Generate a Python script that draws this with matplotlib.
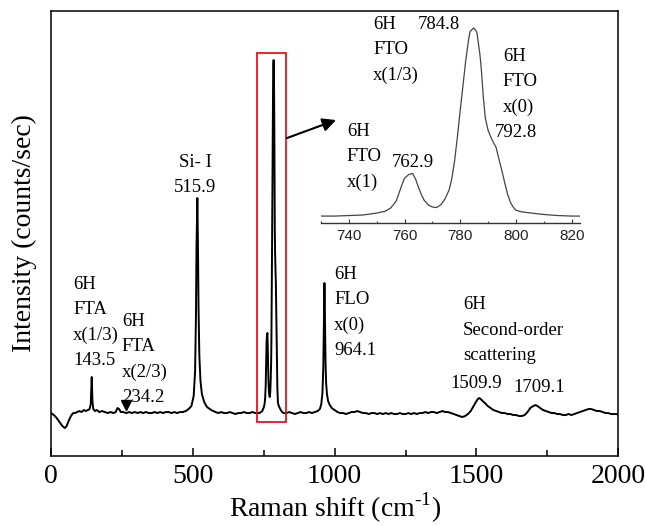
import matplotlib
matplotlib.use("Agg")
import matplotlib.pyplot as plt
from matplotlib.patches import Rectangle
from matplotlib.ticker import MultipleLocator

# Raman spectrum of 6H-SiC (intensity in arbitrary counts/sec units)
shift = [
    0, 10, 20, 30, 40, 49, 55, 62, 70, 78, 85, 92, 100, 108, 115, 122, 130, 136,
    140, 143.5, 146, 149, 155, 162, 170, 180, 190, 200, 210, 220, 228, 234.2, 240,
    246, 255, 265, 275, 285, 295, 305, 315, 325, 335, 345, 355, 365, 375, 385, 395,
    405, 415, 425, 435, 445, 455, 465, 475, 485, 495, 503, 508, 511, 513, 515.9,
    518, 520, 523, 527, 532, 540, 550, 565, 580, 590, 600, 610, 620, 630, 640, 650,
    660, 670, 680, 690, 700, 710, 720, 730, 735, 740, 745, 750, 753, 755, 757, 758,
    759, 760, 761.5, 762.9, 764, 765, 766, 767, 768.5, 770, 771.5, 773, 774.5, 776,
    777, 778, 779, 780, 781, 782, 783, 783.5, 784.2, 784.8, 785.5, 786, 787, 787.5,
    788.3, 789, 790, 791, 792, 792.8, 794, 795, 796, 797, 798, 799, 800, 802, 805,
    810, 815, 820, 825, 830, 840, 850, 860, 870, 880, 890, 900, 910, 920, 930, 940,
    948, 953, 957, 960, 962, 963.2, 964.1, 965, 966.5, 968, 970, 973, 977, 983, 990,
    1000, 1010, 1020, 1030, 1040, 1050, 1060, 1070, 1080, 1090, 1100, 1110, 1120,
    1130, 1140, 1150, 1160, 1170, 1180, 1190, 1200, 1210, 1220, 1230, 1240, 1250,
    1260, 1270, 1280, 1290, 1300, 1310, 1320, 1330, 1340, 1350, 1360, 1370, 1380,
    1390, 1400, 1410, 1420, 1430, 1440, 1450, 1460, 1470, 1480, 1490, 1498, 1505,
    1509.9, 1515, 1522, 1530, 1540, 1550, 1560, 1570, 1580, 1590, 1600, 1610, 1620,
    1630, 1640, 1650, 1660, 1670, 1680, 1690, 1700, 1709.1, 1715, 1725, 1735, 1745,
    1755, 1765, 1775, 1785, 1795, 1805, 1815, 1825, 1835, 1845, 1855, 1865, 1875,
    1885, 1895, 1905, 1915, 1925, 1935, 1945, 1955, 1965, 1975, 1985, 1995, 2000,
]
intensity = [
    43, 41, 38, 34, 30, 28, 30, 35, 40, 43, 43, 44, 45, 44, 46, 45, 46, 47,
    52, 79, 55, 47, 45, 46, 44, 45, 44, 43, 44, 43, 44, 48, 47,
    44, 44, 43, 44, 43, 44, 43, 44, 43, 44, 43, 43, 44, 43, 44, 43,
    44, 44, 43, 44, 43, 44, 44, 45, 47, 50, 60, 85, 140, 210, 258,
    215, 150, 100, 75, 62, 54, 49, 46, 44, 43, 44, 43, 43, 44, 43, 42,
    43, 43, 44, 43, 43, 44, 43, 43, 43, 44, 45, 48.6, 52, 58, 71, 86,
    101, 114, 121, 123, 112, 97, 84, 73, 64, 60, 59, 64, 75, 92,
    114, 148, 193, 242, 289, 336, 374, 389, 393, 396, 392, 387, 349, 323,
    265, 227, 204, 191, 180, 173, 148, 127, 105, 84, 69, 60, 54, 51, 49,
    46, 44, 43, 43, 43, 44, 43, 42, 43, 44, 43, 43, 44, 43, 44, 45,
    47, 52, 63, 88, 130, 160, 173, 158, 125, 92, 73, 62, 55, 51, 48,
    46, 44, 43, 43, 42, 43, 44, 44, 45, 44, 43, 43, 42,
    43, 43, 42, 43, 42, 43, 42, 43, 42, 42, 43, 42, 42,
    43, 42, 43, 42, 43, 43, 44, 43, 44, 44, 43, 44, 45,
    44, 44, 43, 42, 41, 40, 39, 40, 42, 45, 50, 54, 57,
    58, 57, 55, 53, 50, 48, 46, 45, 44, 43, 43, 42, 42,
    41, 41, 40, 40, 41, 44, 48, 50, 51, 50, 48, 46, 45,
    44, 43, 43, 42, 42, 41, 41, 42, 41, 42, 43, 44, 45,
    46, 47, 47, 46, 45, 45, 44, 43, 43, 42, 42, 42, 41,
]

major_ticks = [0, 500, 1000, 1500, 2000]
inset_ticks = [740, 760, 780, 800, 820]

plt.rcParams["font.family"] = ["Liberation Serif", "DejaVu Serif"]
plt.rcParams["mathtext.fontset"] = "custom"
plt.rcParams["mathtext.rm"] = "Liberation Serif"

fig = plt.figure(figsize=(6.46, 5.26), dpi=100)
ax = fig.add_axes([0.079, 0.133, 0.878, 0.846])

ax.plot(shift, intensity, color="black", lw=1.4)
ax.set_xlim(0, 2000)
ax.set_ylim(0, 445)
ax.set_xticks(major_ticks)
ax.xaxis.set_minor_locator(MultipleLocator(250))
ax.set_yticks([])
ax.tick_params(axis="x", which="major", direction="in", length=6, width=1.1,
               labelsize=20, pad=6)
ax.tick_params(axis="x", which="minor", direction="in", length=4, width=1.1)
for s in ax.spines.values():
    s.set_linewidth(1.1)
ax.set_xlabel(r"Raman shift (cm$^{\text{-1}}$)", fontsize=20, labelpad=1)
ax.set_ylabel("Intensity (counts/sec)", fontsize=20, labelpad=10)

# peak assignments
fs = 13.5
ls = 1.62
ax.text(78, 133.5, "6H\nFTA\nx(1/3)\n143.5", fontsize=fs, ha="left", va="center",
        linespacing=ls)
ax.text(250, 96.5, "6H\nFTA\nx(2/3)\n234.2", fontsize=fs, ha="left", va="center",
        linespacing=ls)
ax.text(508, 281.5, "Si- I\n515.9", fontsize=fs, ha="center", va="center",
        linespacing=ls)
ax.text(998, 143.5, "6H\nFLO\nx(0)\n964.1", fontsize=fs, ha="left", va="center",
        linespacing=ls)
ax.text(1453, 126, "6H\nSecond-order\nscattering", fontsize=fs, ha="left",
        va="center", linespacing=ls)
ax.text(1407, 73, "1509.9", fontsize=fs, ha="left", va="center")
ax.text(1630, 69, "1709.1", fontsize=fs, ha="left", va="center")
ax.plot([265], [51], marker="v", ms=7.5, color="black", ls="none")

# zoom box and pointer to the inset
ax.add_patch(Rectangle((727, 34), 102, 369, fill=False, edgecolor="#e8141c",
                       lw=1.3, zorder=3))
ax.annotate("", xy=(1005, 336), xytext=(832, 318),
            arrowprops=dict(arrowstyle="-|>", color="black", lw=1.5,
                            mutation_scale=20, shrinkA=0, shrinkB=0))

# inset: FTO modes around 785 cm-1
ins = fig.add_axes([321 / 646, 1 - 223 / 526, 259 / 646, 203 / 526])
ins.patch.set_visible(False)
ins.plot(shift, intensity, color="#444444", lw=0.9)
ins.set_xlim(730, 823)
ins.set_ylim(30, 411)
ins.set_yticks([])
ins.set_xticks(inset_ticks)
ins.xaxis.set_minor_locator(MultipleLocator(10))
for side in ("left", "top", "right"):
    ins.spines[side].set_visible(False)
ins.spines["bottom"].set_color("#333333")
ins.spines["bottom"].set_linewidth(1.0)
ins.tick_params(axis="x", which="major", direction="in", length=3, width=0.8,
                color="#333333", labelsize=11, labelcolor="#222222", pad=4)
ins.tick_params(axis="x", which="minor", direction="in", length=1.5, width=0.8,
                color="#333333")
for lab in ins.get_xticklabels():
    lab.set_family(["Liberation Sans", "DejaVu Sans"])

ins.text(748.7, 355, "6H\nFTO\nx(1/3)", fontsize=fs, ha="left", va="center",
         linespacing=ls)
ins.text(764.8, 402, "784.8", fontsize=fs, ha="left", va="center")
ins.text(795.3, 295, "6H\nFTO\nx(0)", fontsize=fs, ha="left", va="center",
         linespacing=ls)
ins.text(792.4, 199, "792.8", fontsize=fs, ha="left", va="center")
ins.text(739.3, 154, "6H\nFTO\nx(1)", fontsize=fs, ha="left", va="center",
         linespacing=ls)
ins.text(755.5, 142.7, "762.9", fontsize=fs, ha="left", va="center")

fig.savefig("out.png", dpi=100)
